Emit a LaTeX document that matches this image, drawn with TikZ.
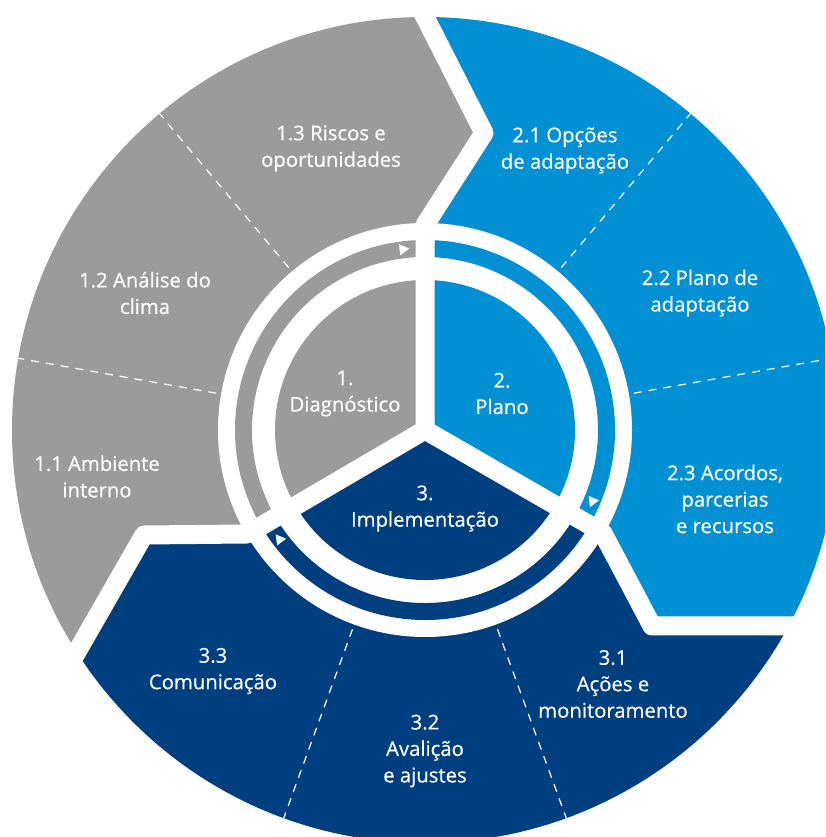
\documentclass[tikz,border=0pt]{standalone}
\usepackage{fontspec}
\newfontfamily\lblfont{Open Sans}[FakeBold=0.4]
\usetikzlibrary{calc}
\definecolor{cgray}{HTML}{9B9B9B}
\definecolor{cblue}{HTML}{0090D3}
\definecolor{cdark}{HTML}{003F7F}
\begin{document}
\begin{tikzpicture}[x=1pt,y=1pt,
  lbl/.style={text=white, align=center, inner sep=0pt, font=\lblfont\fontsize{20.3}{26.5}\selectfont},
  spoke/.style={draw=white, line width=19pt, line join=round},
  divider/.style={draw=white, line width=1.2pt, dash pattern=on 8pt off 7pt}]
\useasboundingbox (0,0) rectangle (825,837);
\clip (0,0) rectangle (825,837);
\coordinate (C) at (425,407);
\coordinate (S1) at (425,612);
\coordinate (T1) at (484,704);
\coordinate (E1) at (307,1052);
\coordinate (S2) at (602.5,304.5);
\coordinate (T2) at (652,211);
\coordinate (E2) at (1100,211);
\coordinate (S3) at (247.5,303);
\coordinate (T3) at (144,302);
\coordinate (E3) at (-54,-43);
% outer sectors
\begin{scope}
\clip (C) circle[radius=413];
\fill[cgray] (C) -- (S1) -- (T1) -- (E1) -- (-700,1052) -- (-700,-43) -- (E3) -- (T3) -- (S3) -- cycle;
\fill[cblue] (C) -- (S1) -- (T1) -- (E1) -- (1300,1052) -- (1300,211) -- (E2) -- (T2) -- (S2) -- cycle;
\fill[cdark] (C) -- (S2) -- (T2) -- (E2) -- (1100,-300) -- (-54,-300) -- (E3) -- (T3) -- (S3) -- cycle;
\end{scope}
% white annulus
\fill[white] (C) circle[radius=207];
% ring
\fill[cgray] ($(C)+(90:190)$) arc[start angle=90,end angle=210,radius=190] -- ($(C)+(210:173)$) arc[start angle=210,end angle=90,radius=173] -- cycle;
\fill[cblue] ($(C)+(-30:190)$) arc[start angle=-30,end angle=90,radius=190] -- ($(C)+(90:173)$) arc[start angle=90,end angle=-30,radius=173] -- cycle;
\fill[cdark] ($(C)+(210:190)$) arc[start angle=210,end angle=330,radius=190] -- ($(C)+(330:173)$) arc[start angle=330,end angle=210,radius=173] -- cycle;
% inner disk
\fill[cgray] (C) -- ($(C)+(90:150)$) arc[start angle=90,end angle=210,radius=150] -- cycle;
\fill[cblue] (C) -- ($(C)+(-30:150)$) arc[start angle=-30,end angle=90,radius=150] -- cycle;
\fill[cdark] (C) -- ($(C)+(210:150)$) arc[start angle=210,end angle=330,radius=150] -- cycle;
% white spokes / chevrons
\draw[spoke] (C) -- (S1) -- (T1) -- (E1);
\draw[spoke] (C) -- (S2) -- (T2) -- (E2);
\draw[spoke] (C) -- (S3) -- (T3) -- (E3);
% dashed dividers
\foreach \a in {130,170,50,10,-70,-110}{
  \draw[divider] ($(C)+(\a:212)$) -- ($(C)+(\a:413)$);
}
% triangles
\foreach \p in {97,-23,217}{
  \pgfmathsetmacro{\dd}{\p-90}
  \fill[white] ($(C)+(\p:182)+(\dd:6.5)$) -- ($(C)+(\p:182)+({\dd+120}:6.5)$) -- ($(C)+(\p:182)+({\dd+240}:6.5)$) -- cycle;
}
% labels
\node[lbl] (n13) at (331,688.5) {1.3 Riscos e\\oportunidades};
\node[lbl] (n12) at (145,544) {1.2 Análise do\\clima};
\node[lbl] (n11) at (97,360.5) {1.1 Ambiente\\interno};
\node[lbl] (n21) at (565,686.5) {2.1 Opções\\de adaptação};
\node[lbl] (n22) at (700,544) {2.2 Plano de\\adaptação};
\node[lbl] (n23) at (725,338) {2.3 Acordos,\\parcerias\\e recursos};
\node[lbl] (n33) at (213,166) {3.3\\Comunicação};
\node[lbl] (n32) at (425,86) {3.2\\Avalição\\e ajustes};
\node[lbl] (n31) at (613,153) {3.1\\Ações e\\monitoramento};
\node[lbl] (n1) at (345,443.5) {1.\\Diagnóstico};
\node[lbl] (n2) at (502,443.5) {2.\\Plano};
\node[lbl] (n3) at (425,328.5) {3.\\Implementação};
\end{tikzpicture}
\end{document}
